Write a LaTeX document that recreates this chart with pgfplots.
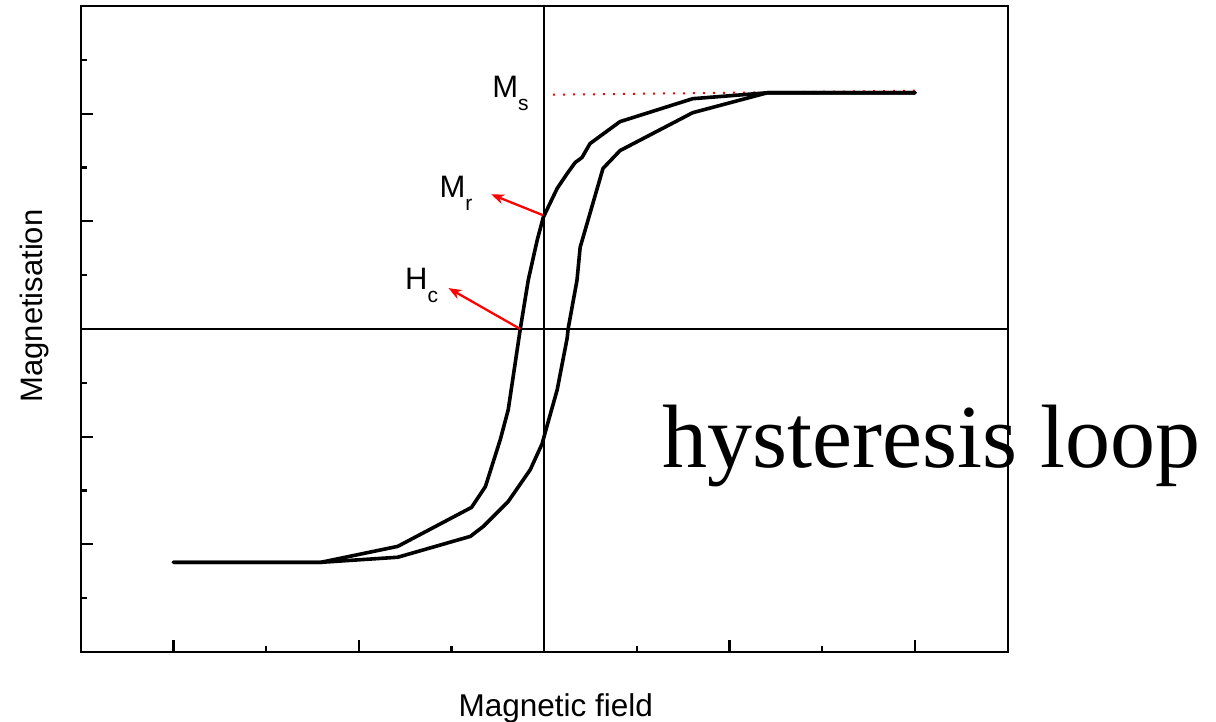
\documentclass[border=0pt]{standalone}
\usepackage{pgfplots}
\pgfplotsset{compat=1.18}
\usepackage{fontspec}
\setmainfont{Liberation Sans}
\newfontfamily\timesfont{Liberation Serif}
\usetikzlibrary{arrows.meta}
\begin{document}
\begin{tikzpicture}
\begin{axis}[
  at={(0,0)}, anchor=south west,
  scale only axis, width=927pt, height=646pt,
  xmin=-2.5, xmax=2.5, ymin=-3, ymax=3,
  every axis/.append style={line width=2.3pt},
  axis line style={line width=2.3pt, black},
  tick align=inside, xtick pos=bottom, ytick pos=left,
  xtick={-2,-1,0,1,2}, minor xtick={-1.5,-0.5,0.5,1.5},
  ytick={-2,-1,0,1,2}, minor ytick={-2.5,-1.5,-0.5,0.5,1.5,2.5},
  xticklabels={}, yticklabels={},
  major tick length=12pt, minor tick length=6pt,
  tick style={line width=2.3pt, black},
  clip=false,
  xlabel={\fontsize{31.5}{31.5}\selectfont Magnetic field},
  xlabel style={at={(rel axis cs:0.5124,-0.0991)}, anchor=base, inner sep=0pt},
  ylabel={\fontsize{31}{31}\selectfont Magnetisation},
  ylabel style={at={(rel axis cs:-0.041,0.5356)}, anchor=base, rotate=0, inner sep=0pt},
]
% crosshair
\addplot[black, line width=2pt] coordinates {(0,-3) (0,3)};
\addplot[black, line width=2pt] coordinates {(-2.5,0) (2.5,0)};
% Ms dotted line
\addplot[red, line width=2pt, dash pattern=on 2pt off 8pt] coordinates {(0.048,2.176) (2.0,2.213)};
% ascending branch
\addplot[black, line width=3.6pt, line join=round, line cap=round] coordinates {
(-2.000,-2.167) (-1.204,-2.167) (-0.790,-2.120) (-0.398,-1.926) (-0.328,-1.833)
(-0.194,-1.602) (-0.075,-1.306) (-0.011,-1.065) (0.005,-0.963) (0.070,-0.565)
(0.124,-0.083) (0.129,0) (0.177,0.454) (0.194,0.759) (0.247,1.074)
(0.317,1.491) (0.409,1.657) (0.801,2.009) (1.204,2.194) (2.000,2.194)};
% descending branch
\addplot[black, line width=3.6pt, line join=round, line cap=round] coordinates {
(-2.000,-2.167) (-1.204,-2.167) (-0.790,-2.019) (-0.392,-1.657) (-0.317,-1.463)
(-0.237,-1.028) (-0.194,-0.750) (-0.129,0) (-0.086,0.454) (-0.038,0.824)
(-0.005,1.037) (0.070,1.306) (0.124,1.444) (0.167,1.546) (0.204,1.593)
(0.247,1.722) (0.409,1.926) (0.801,2.139) (1.204,2.194) (2.000,2.194)};
% arrows
\draw[red, line width=2.3pt, -{Stealth[length=13pt,width=10pt]}] (axis cs:-0.005,1.056) -- (axis cs:-0.285,1.250);
\draw[red, line width=2.3pt, -{Stealth[length=13pt,width=10pt]}] (axis cs:-0.129,0) -- (axis cs:-0.516,0.380);
% labels
\node[anchor=base west, inner sep=0pt, outer sep=0pt] at (axis cs:-0.280,2.148)
  {\fontsize{31}{31}\selectfont M\raisebox{-13pt}{\fontsize{21}{21}\selectfont s}};
\node[anchor=base west, inner sep=0pt, outer sep=0pt] at (axis cs:-0.564,1.222)
  {\fontsize{31}{31}\selectfont M\raisebox{-13pt}{\fontsize{21}{21}\selectfont r}};
\node[anchor=base west, inner sep=0pt, outer sep=0pt] at (axis cs:-0.750,0.370)
  {\fontsize{31}{31}\selectfont H\raisebox{-13pt}{\fontsize{21}{21}\selectfont c}};
\node[anchor=base west, inner sep=0pt, outer sep=0pt] at (axis cs:0.640,-1.287)
  {\timesfont\fontsize{90}{90}\selectfont hysteresis loop};
\end{axis}
\pgfresetboundingbox
\path[use as bounding box] (-80.7pt,-70pt) rectangle (1135.3pt,652pt);
\end{tikzpicture}
\end{document}
